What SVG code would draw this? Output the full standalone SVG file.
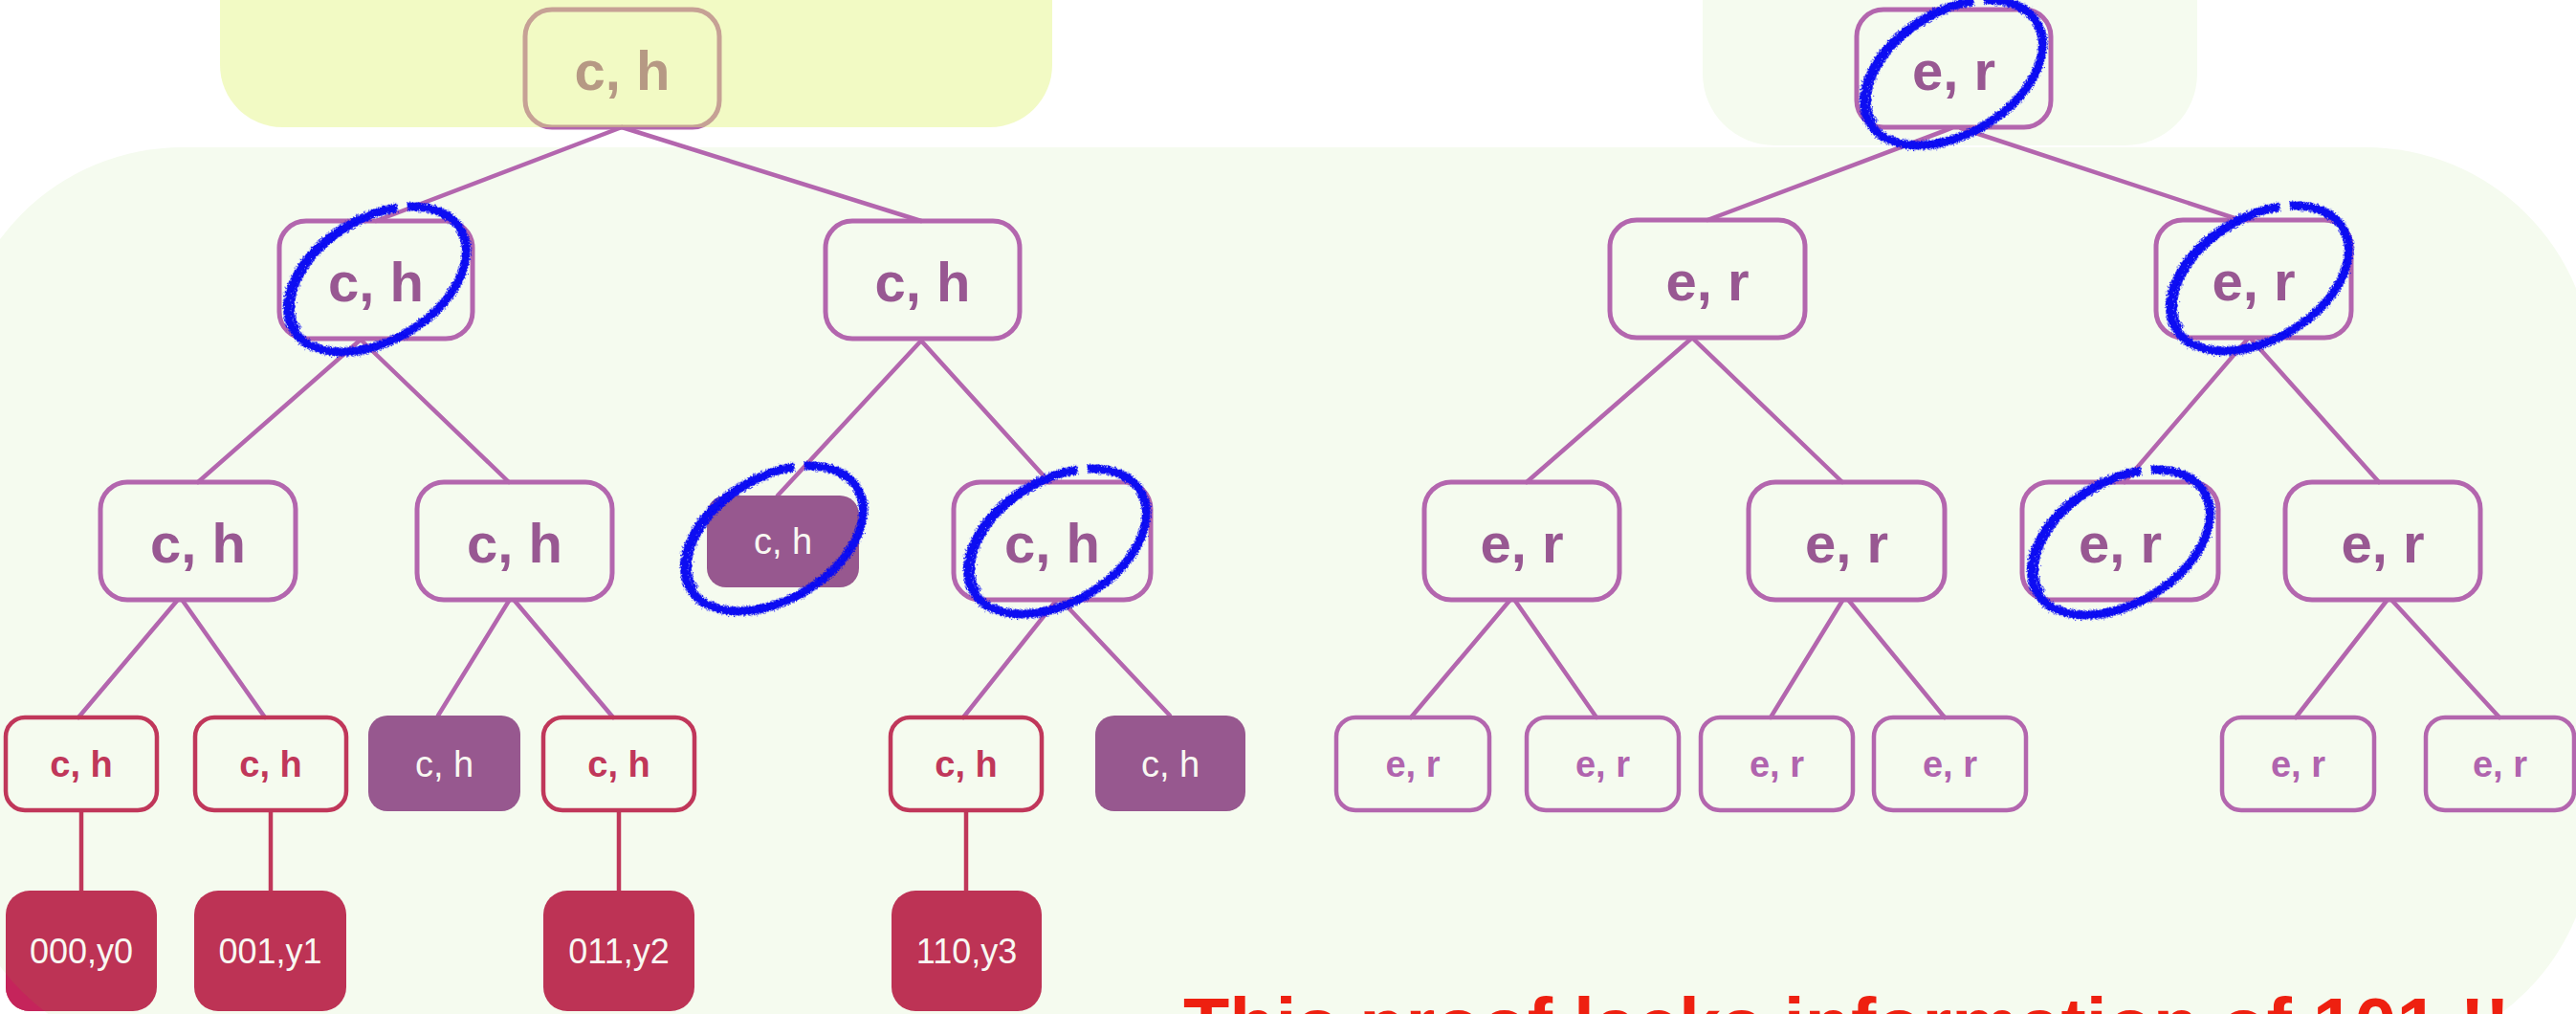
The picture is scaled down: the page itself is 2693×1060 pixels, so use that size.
<svg xmlns="http://www.w3.org/2000/svg" width="2693" height="1060" viewBox="0 0 2693 1060">
  <defs>
    <style>
      .box { fill: none; stroke: #b366ae; stroke-width: 5; }
      .sbox { fill: none; stroke: #b366ae; stroke-width: 4.5; }
      .rbox { fill: none; stroke: #c0375a; stroke-width: 4.5; }
      .pfill { fill: #97588f; }
      .leaf { fill: #bd3355; }
      .edge { fill: none; stroke: #b366ae; stroke-width: 4.5; stroke-linecap: round; }
      .redge { fill: none; stroke: #c0375a; stroke-width: 4.5; }
      text { font-family: "Liberation Sans", Arial, Helvetica, sans-serif; text-anchor: middle; }
      .big { font-size: 58px; font-weight: bold; fill: #985892; }
      .sr { font-size: 38px; font-weight: bold; fill: #c0375a; }
      .sp { font-size: 38px; font-weight: bold; fill: #b064ae; }
      .wt { font-size: 38px; fill: #f8f8f2; }
      .lt { font-size: 36px; fill: #f8f8f2; }
      .pen { fill: none; stroke: #0808f2; stroke-width: 9; stroke-dasharray: 86 2 12; filter: url(#rough); }
      .pen2 { fill: none; stroke: #0808f2; stroke-width: 4; stroke-dasharray: 40 10 30 20; filter: url(#rough); }
      .note { font-size: 79px; font-weight: bold; fill: #ee2010; text-anchor: start; }
    </style>
    <filter id="rough" x="-15%" y="-15%" width="130%" height="130%">
      <feTurbulence type="fractalNoise" baseFrequency="0.9" numOctaves="2" seed="4" result="n"/>
      <feDisplacementMap in="SourceGraphic" in2="n" scale="7" xChannelSelector="R" yChannelSelector="G"/>
    </filter>
    <mask id="outsideGreen">
      <rect x="-50" y="-50" width="2800" height="1200" fill="#fff"/>
      <rect x="-47" y="154" width="2758" height="952" rx="238" fill="#000"/>
    </mask>
    <!-- one pen loop, reused at each marked node -->
    <g id="loop">
      <ellipse class="pen" cx="0" cy="0" rx="102" ry="64" pathLength="100" transform="rotate(-31)"/>
      <ellipse class="pen2" cx="2" cy="1" rx="99" ry="62" pathLength="100" transform="rotate(-32)"/>
    </g>
  </defs>

  <rect width="2693" height="1060" fill="#ffffff"/>

  <!-- background regions -->
  <g id="regions">
    <rect x="-47" y="154" width="2758" height="952" rx="238" fill="#f5fbef"/>
    <rect x="1780" y="-100" width="517" height="252" rx="75" fill="#f5fbef"/>
  </g>

  <!-- connectors -->
  <g id="connectors">
    <line class="edge" x1="650" y1="133" x2="393" y2="231"/>
    <line class="edge" x1="650" y1="133" x2="963" y2="231"/>
    <line class="edge" x1="377" y1="355" x2="207" y2="504"/>
    <line class="edge" x1="377" y1="355" x2="532" y2="504"/>
    <line class="edge" x1="964" y1="355" x2="813" y2="518"/>
    <line class="edge" x1="962" y1="355" x2="1097" y2="504"/>
    <line class="edge" x1="185" y1="628" x2="82" y2="750"/>
    <line class="edge" x1="191" y1="628" x2="277" y2="750"/>
    <line class="edge" x1="532" y1="628" x2="458" y2="748"/>
    <line class="edge" x1="538" y1="628" x2="641" y2="750"/>
    <line class="edge" x1="1104" y1="628" x2="1007" y2="750"/>
    <line class="edge" x1="1110" y1="628" x2="1223" y2="748"/>
    <line class="redge" x1="85" y1="848" x2="85" y2="931"/>
    <line class="redge" x1="283" y1="848" x2="283" y2="931"/>
    <line class="redge" x1="647" y1="848" x2="647" y2="931"/>
    <line class="redge" x1="1010" y1="848" x2="1010" y2="931"/>
    <line class="edge" x1="2040" y1="134" x2="1785" y2="230"/>
    <line class="edge" x1="2050" y1="134" x2="2342" y2="230"/>
    <line class="edge" x1="1768" y1="354" x2="1596" y2="504"/>
    <line class="edge" x1="1770" y1="354" x2="1926" y2="504"/>
    <line class="edge" x1="2350" y1="354" x2="2221" y2="504"/>
    <line class="edge" x1="2353" y1="354" x2="2487" y2="504"/>
    <line class="edge" x1="1578" y1="628" x2="1475" y2="750"/>
    <line class="edge" x1="1584" y1="628" x2="1669" y2="750"/>
    <line class="edge" x1="1926" y1="628" x2="1851" y2="750"/>
    <line class="edge" x1="1933" y1="628" x2="2033" y2="750"/>
    <line class="edge" x1="2495" y1="628" x2="2400" y2="750"/>
    <line class="edge" x1="2501" y1="628" x2="2613" y2="750"/>
  </g>

  <!-- c,h tree -->
  <g id="ch-root"><rect class="box" x="549" y="10" width="203" height="123" rx="28"/><text class="big" x="650.5" y="94">c, h</text></g>
  <g id="ch-0"><rect class="box" x="292" y="231" width="202" height="123" rx="28"/><text class="big" x="393" y="315">c, h</text></g>
  <g id="ch-1"><rect class="box" x="863" y="231" width="203" height="123" rx="28"/><text class="big" x="964.5" y="315">c, h</text></g>
  <g id="ch-00"><rect class="box" x="105" y="504" width="204" height="123" rx="28"/><text class="big" x="207" y="588">c, h</text></g>
  <g id="ch-01"><rect class="box" x="436" y="504" width="204" height="123" rx="28"/><text class="big" x="538" y="588">c, h</text></g>
  <g id="ch-10"><rect class="pfill" x="739" y="518" width="159" height="96" rx="20"/><text class="wt" x="818.5" y="579">c, h</text></g>
  <g id="ch-11"><rect class="box" x="997" y="504" width="206" height="123" rx="28"/><text class="big" x="1100" y="588">c, h</text></g>
  <g id="ch-000"><rect class="rbox" x="6" y="750" width="158" height="97" rx="20"/><text class="sr" x="85" y="812">c, h</text></g>
  <g id="ch-001"><rect class="rbox" x="204" y="750" width="158" height="97" rx="20"/><text class="sr" x="283" y="812">c, h</text></g>
  <g id="ch-010"><rect class="pfill" x="385" y="748" width="159" height="100" rx="20"/><text class="wt" x="464.5" y="812">c, h</text></g>
  <g id="ch-011"><rect class="rbox" x="568" y="750" width="158" height="97" rx="20"/><text class="sr" x="647" y="812">c, h</text></g>
  <g id="ch-110"><rect class="rbox" x="931" y="750" width="158" height="97" rx="20"/><text class="sr" x="1010" y="812">c, h</text></g>
  <g id="ch-111"><rect class="pfill" x="1145" y="748" width="157" height="100" rx="20"/><text class="wt" x="1223.5" y="812">c, h</text></g>
  <g id="leaf-000"><rect class="leaf" x="6" y="931" width="158" height="126" rx="25"/><rect x="6" y="931" width="158" height="126" rx="25" fill="#c5245b" mask="url(#outsideGreen)"/><text class="lt" x="85" y="1007">000,y0</text></g>
  <g id="leaf-001"><rect class="leaf" x="203" y="931" width="159" height="126" rx="25"/><text class="lt" x="282.5" y="1007">001,y1</text></g>
  <g id="leaf-011"><rect class="leaf" x="568" y="931" width="158" height="126" rx="25"/><text class="lt" x="647" y="1007">011,y2</text></g>
  <g id="leaf-110"><rect class="leaf" x="932" y="931" width="157" height="126" rx="25"/><text class="lt" x="1010.5" y="1007">110,y3</text></g>

  <!-- e,r tree -->
  <g id="er-root"><rect class="box" x="1941" y="10" width="203" height="123" rx="28"/><text class="big" x="2042.5" y="94">e, r</text></g>
  <g id="er-0"><rect class="box" x="1683" y="230" width="204" height="123" rx="28"/><text class="big" x="1785" y="314">e, r</text></g>
  <g id="er-1"><rect class="box" x="2254" y="230" width="204" height="123" rx="28"/><text class="big" x="2356" y="314">e, r</text></g>
  <g id="er-00"><rect class="box" x="1489" y="504" width="204" height="123" rx="28"/><text class="big" x="1591" y="588">e, r</text></g>
  <g id="er-01"><rect class="box" x="1828" y="504" width="205" height="123" rx="28"/><text class="big" x="1930.5" y="588">e, r</text></g>
  <g id="er-10"><rect class="box" x="2114" y="504" width="205" height="123" rx="28"/><text class="big" x="2216.5" y="588">e, r</text></g>
  <g id="er-11"><rect class="box" x="2389" y="504" width="204" height="123" rx="28"/><text class="big" x="2491" y="588">e, r</text></g>
  <g id="er-000"><rect class="sbox" x="1397" y="750" width="160" height="97" rx="20"/><text class="sp" x="1477" y="812">e, r</text></g>
  <g id="er-001"><rect class="sbox" x="1596" y="750" width="159" height="97" rx="20"/><text class="sp" x="1675.5" y="812">e, r</text></g>
  <g id="er-010"><rect class="sbox" x="1778" y="750" width="159" height="97" rx="20"/><text class="sp" x="1857.5" y="812">e, r</text></g>
  <g id="er-011"><rect class="sbox" x="1959" y="750" width="159" height="97" rx="20"/><text class="sp" x="2038.5" y="812">e, r</text></g>
  <g id="er-110"><rect class="sbox" x="2323" y="750" width="159" height="97" rx="20"/><text class="sp" x="2402.5" y="812">e, r</text></g>
  <g id="er-111"><rect class="sbox" x="2536" y="750" width="155" height="97" rx="20"/><text class="sp" x="2613.5" y="812">e, r</text></g>

  <!-- translucent highlight over the c,h root -->
  <rect id="highlight" x="230" y="-100" width="870" height="233" rx="65" fill="#e0f373" opacity="0.42"/>

  <!-- hand-drawn pen circles -->
  <g id="pen-marks">
    <use href="#loop" x="394" y="292"/>
    <use href="#loop" x="2042" y="76"/>
    <use href="#loop" x="2362" y="291"/>
    <use href="#loop" x="809" y="563"/>
    <use href="#loop" x="1105" y="566"/>
    <use href="#loop" x="2217" y="567"/>
  </g>

  <text class="note" x="1237" y="1099">This proof lacks information of 101 !!</text>
</svg>
